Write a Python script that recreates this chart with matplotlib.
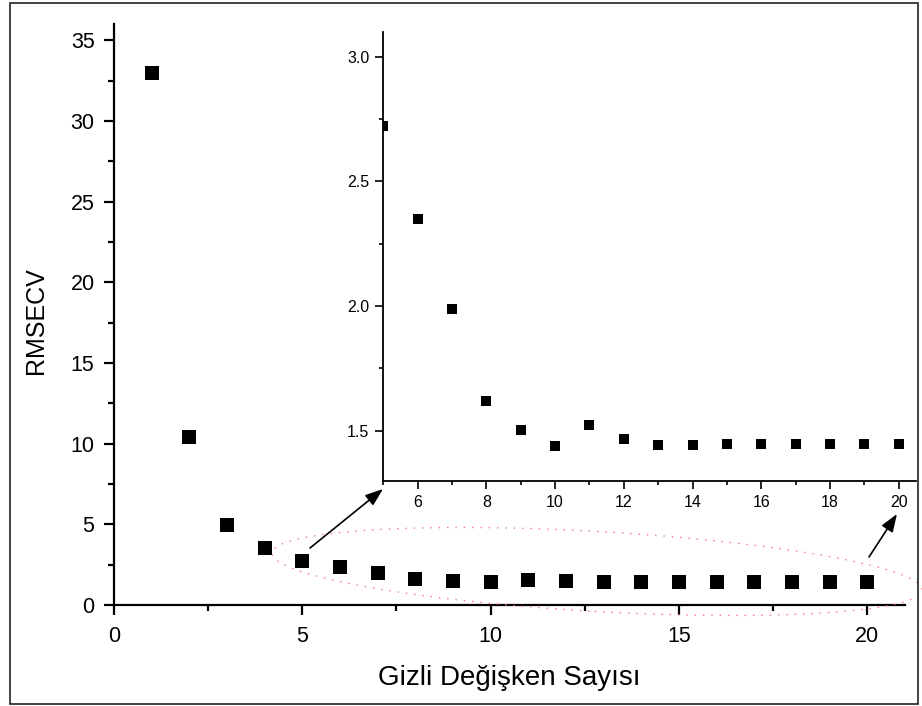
import matplotlib
matplotlib.use("Agg")
import matplotlib.pyplot as plt
from matplotlib.patches import Ellipse, FancyArrowPatch, Rectangle
from matplotlib.transforms import IdentityTransform
from matplotlib.ticker import MultipleLocator, FormatStrFormatter

plt.rcParams['font.family'] = ['Liberation Sans', 'DejaVu Sans']

# number of latent variables vs RMSECV
n_vars = list(range(1, 21))
rmsecv = [33.0, 10.4, 4.97, 3.51, 2.723, 2.349, 1.987, 1.62, 1.504, 1.439,
          1.523, 1.467, 1.445, 1.443, 1.447, 1.448, 1.448, 1.447, 1.447, 1.447]

fig = plt.figure(figsize=(9.22, 7.06), dpi=100)

# main plot
ax = fig.add_axes([0.1236, 0.1431, 0.858, 0.8225])
ax.plot(n_vars, rmsecv, 's', color='black', ms=9.6, mew=0)
ax.set_xlim(0, 21)
ax.set_ylim(0, 36)
ax.xaxis.set_major_locator(MultipleLocator(5))
ax.xaxis.set_minor_locator(MultipleLocator(2.5))
ax.yaxis.set_major_locator(MultipleLocator(5))
ax.yaxis.set_minor_locator(MultipleLocator(2.5))
for s in ['top', 'right']:
    ax.spines[s].set_visible(False)
for s in ['left', 'bottom']:
    ax.spines[s].set_linewidth(1.6)
ax.tick_params(which='major', direction='out', length=7, width=1.6, labelsize=15.5)
ax.tick_params(which='minor', direction='out', length=4.3, width=1.6)
ax.tick_params(axis='y', which='major', pad=7)
ax.tick_params(axis='x', which='major', pad=8)
ax.set_xlabel('Gizli Değişken Sayısı', fontsize=20)
ax.set_ylabel('RMSECV', fontsize=18)
ax.xaxis.set_label_coords(0.5, -0.103)
ax.yaxis.set_label_coords(-0.083, 0.49)

# inset zoom
axin = fig.add_axes([0.4157, 0.3191, 0.5778, 0.636])
axin.plot(n_vars, rmsecv, 's', color='black', ms=6.8, mew=0)
axin.set_xlim(5, 20.5)
axin.set_ylim(1.3, 3.1)
axin.xaxis.set_major_locator(MultipleLocator(2))
axin.xaxis.set_minor_locator(MultipleLocator(1))
axin.yaxis.set_major_locator(MultipleLocator(0.5))
axin.yaxis.set_minor_locator(MultipleLocator(0.25))
axin.xaxis.set_major_formatter(FormatStrFormatter('%d'))
axin.yaxis.set_major_formatter(FormatStrFormatter('%.1f'))
for s in ['top', 'right']:
    axin.spines[s].set_visible(False)
for s in ['left', 'bottom']:
    axin.spines[s].set_linewidth(1.3)
axin.tick_params(which='major', direction='out', length=5.5, width=1.2, labelsize=11.5, pad=4.5)
axin.tick_params(which='minor', direction='out', length=3, width=1.2)
axin.patch.set_alpha(0)

# dotted ellipse round the flat part (pixel coordinates)
H = 706
fig.add_artist(Ellipse((597, H - 571.5), 651, 80, angle=-3.26,
                       transform=IdentityTransform(), fill=False,
                       edgecolor='#f27a7a', lw=1.0, linestyle=(0, (1, 5)),
                       clip_on=False))

# arrows to the inset
for tail, head in [((310, H - 548), (383, H - 489)), ((869, H - 557), (897, H - 514))]:
    fig.add_artist(FancyArrowPatch(tail, head, transform=IdentityTransform(),
                                   arrowstyle='-|>,head_length=0.6,head_width=0.22',
                                   mutation_scale=18, lw=1.2, color='black',
                                   shrinkA=0, shrinkB=0))

# frame round the whole picture
fig.add_artist(Rectangle((10, H - 704), 908, 701, transform=IdentityTransform(),
                         fill=False, edgecolor='#222222', lw=1.2))

fig.savefig('out.png', dpi=100)
